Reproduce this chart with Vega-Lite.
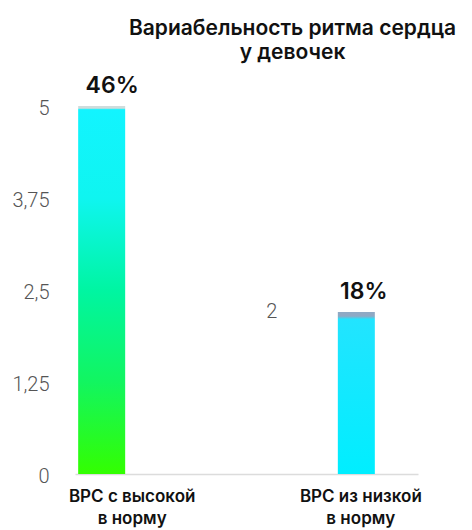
{
  "$schema": "https://vega.github.io/schema/vega-lite/v6.json",
  "width": 343,
  "height": 368,
  "autosize": {"type": "none"},
  "padding": {"left": 75, "top": 106, "right": 54, "bottom": 56},
  "background": "white",
  "config": {"view": {"stroke": null}},
  "title": {
    "text": ["Вариабельность ритма сердца", "у девочек"],
    "font": "Inter",
    "fontSize": 21,
    "fontWeight": 600,
    "color": "#111111",
    "anchor": "middle",
    "dx": 46,
    "lineHeight": 24,
    "offset": 12
  },
  "data": {
    "values": [
      {"category": "ВРС с высокой в норму", "value": 5, "pct": "46%"},
      {"category": "ВРС из низкой в норму", "value": 2.2, "pct": "18%", "note": "2"}
    ]
  },
  "encoding": {
    "x": {
      "field": "category",
      "type": "nominal",
      "scale": {"domain": ["ВРС с высокой в норму", "ВРС из низкой в норму"], "paddingInner": 0.5, "paddingOuter": 0},
      "axis": {
        "title": null,
        "labelAngle": 0,
        "labelExpr": "[slice(datum.label, 0, 13), slice(datum.label, 14)]",
        "labelFont": "Inter",
        "labelFontSize": 17,
        "labelFontWeight": 600,
        "labelColor": "#111111",
        "labelLineHeight": 22,
        "labelPadding": 14,
        "ticks": false,
        "domainColor": "#dcdcdc",
        "domainWidth": 1.5
      }
    },
    "y": {
      "field": "value",
      "type": "quantitative",
      "scale": {"domain": [0, 5], "nice": false},
      "axis": {
        "title": null,
        "values": [0, 1.25, 2.5, 3.75, 5],
        "labelExpr": "replace(toString(datum.value), '.', ',')",
        "labelFont": "Roboto",
        "labelFontWeight": 300,
        "labelFontSize": 20,
        "labelColor": "#555555",
        "labelPadding": 26,
        "labelBaseline": "middle",
        "labelOffset": 2,
        "domain": false,
        "ticks": false,
        "grid": false
      }
    }
  },
  "layer": [
    {
      "transform": [{"filter": "datum.category == 'ВРС с высокой в норму'"}],
      "mark": {
        "type": "bar",
        "width": 47,
        "xOffset": -30.5,
        "color": {
          "gradient": "linear", "x1": 0, "y1": 0, "x2": 0, "y2": 1,
          "stops": [
            {"offset": 0, "color": "#cfdcdc"},
            {"offset": 0.006, "color": "#cfdcdc"},
            {"offset": 0.01, "color": "#12f4ff"},
            {"offset": 0.25, "color": "#0ff5f0"},
            {"offset": 0.5, "color": "#00f5a2"},
            {"offset": 0.75, "color": "#12f560"},
            {"offset": 1, "color": "#33ff00"}
          ]
        }
      }
    },
    {
      "transform": [{"filter": "datum.category == 'ВРС из низкой в норму'"}],
      "mark": {
        "type": "bar",
        "width": 37,
        "xOffset": -4.5,
        "color": {
          "gradient": "linear", "x1": 0, "y1": 0, "x2": 0, "y2": 1,
          "stops": [
            {"offset": 0, "color": "#8fa9c4"},
            {"offset": 0.025, "color": "#8fa9c4"},
            {"offset": 0.045, "color": "#22e4ff"},
            {"offset": 1, "color": "#00eeff"}
          ]
        }
      }
    },
    {
      "transform": [{"filter": "datum.category == 'ВРС с высокой в норму'"}],
      "mark": {"type": "text", "font": "Inter", "fontSize": 23, "fontWeight": 600, "color": "#111111", "baseline": "alphabetic", "dx": -20, "dy": -13},
      "encoding": {"text": {"field": "pct"}}
    },
    {
      "transform": [{"filter": "datum.category == 'ВРС из низкой в норму'"}],
      "mark": {"type": "text", "font": "Inter", "fontSize": 23, "fontWeight": 600, "color": "#111111", "baseline": "alphabetic", "dx": 3, "dy": -13},
      "encoding": {"text": {"field": "pct"}}
    },
    {
      "transform": [{"filter": "isValid(datum.note)"}],
      "mark": {"type": "text", "font": "Roboto", "fontSize": 20, "fontWeight": 300, "color": "#555555", "baseline": "middle", "dx": -89},
      "encoding": {"text": {"field": "note"}}
    }
  ]
}
